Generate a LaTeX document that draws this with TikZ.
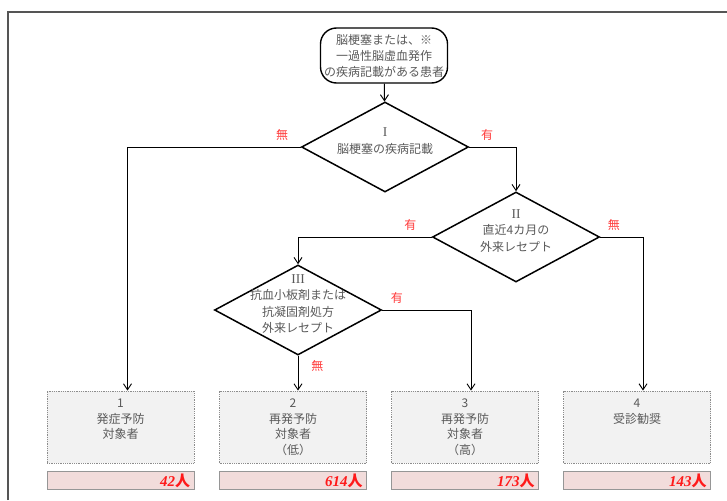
\documentclass[tikz,border=0pt]{standalone}
\usepackage{fontspec}
\setmainfont{Noto Sans CJK JP}[AutoFakeSlant=0.2]
\newfontfamily\numfont{Liberation Serif}
\usetikzlibrary{arrows.meta,shapes.geometric,positioning}

\definecolor{textgray}{HTML}{595959}
\definecolor{labelred}{HTML}{FF3B3B}
\definecolor{countred}{HTML}{FF1A1A}
\definecolor{boxfill}{HTML}{F2F2F2}
\definecolor{boxline}{HTML}{8C8C8C}
\definecolor{countfill}{HTML}{F2DCDB}
\definecolor{countline}{HTML}{969696}
\definecolor{framegray}{HTML}{555555}

\begin{document}
\begin{tikzpicture}[x=1pt,y=-1pt,->,>={Straight Barb[length=6pt,width=8pt]},
                    line width=0.95pt,
                    start node/.style={draw,rounded corners=16pt,line width=1.4pt,
                      minimum width=127pt,minimum height=55pt,inner sep=0pt,
                      align=center,text=textgray,font=\fontsize{12}{16}\selectfont},
                    decision/.style={diamond,draw,line width=1.5pt,
                      minimum width=167pt,minimum height=90pt,inner sep=0pt},
                    decision text/.style={align=center,inner sep=0pt,yshift=6pt,
                      text=textgray,font=\fontsize{12}{16.5}\selectfont},
                    result/.style={draw=boxline,densely dotted,fill=boxfill,line width=0.8pt,
                      minimum width=147pt,minimum height=72pt,inner sep=0pt},
                    result text/.style={align=center,inner sep=0pt,
                      text=textgray,font=\fontsize{12}{15.5}\selectfont},
                    count/.style={draw=countline,fill=countfill,line width=0.9pt,
                      minimum width=147pt,minimum height=18pt,inner sep=0pt,
                      text width=139pt,align=right,text=countred,
                      font=\fontsize{15}{15}\selectfont\bfseries\itshape},
                    yes no/.style={text=labelred,inner sep=1pt,
                      font=\fontsize{12}{12}\selectfont},
                    %every edge/.style={draw}
                    ]
  \useasboundingbox (0,0) rectangle (727,500);
  \draw[-,framegray,line width=1.6pt] (8,500) -- (8,12) -- (727,12);

  \node[start node] (start) at (384,55.5) {脳梗塞または、※\\一過性脳虚血発作\\の疾病記載がある患者};

  \node[decision] (d1) at (385,147) {};
  \node[decision text] (d1 text) at (d1) {{\numfont\fontsize{13.5}{13.5}\selectfont I}\\脳梗塞の疾病記載};
  \node[decision] (d2) at (516,237) {};
  \node[decision text] (d2 text) at (d2) {{\numfont\fontsize{13.5}{13.5}\selectfont II}\\直近4カ月の\\外来レセプト};
  \node[decision] (d3) at (298,310) {};
  \node[decision text] (d3 text) at (d3) {{\numfont\fontsize{13.5}{13.5}\selectfont III}\\抗血小板剤または\\抗凝固剤処方\\外来レセプト};

  \node[result] (r1) at (120.5,427) {};
  \node[result] (r2) at (293,427) {};
  \node[result] (r3) at (465,427) {};
  \node[result] (r4) at (637,427) {};
  \node[result text, below=8pt of r1.north] (r1 text) {1\\発症予防\\対象者};
  \node[result text, below=8pt of r2.north] (r2 text) {2\\再発予防\\対象者\\（低）};
  \node[result text, below=8pt of r3.north] (r3 text) {3\\再発予防\\対象者\\（高）};
  \node[result text, below=8pt of r4.north] (r4 text) {4\\受診勧奨};

  \node[count, below=8pt of r1] (c1) {{\numfont 42}人};
  \node[count, below=8pt of r2] (c2) {{\numfont 614}人};
  \node[count, below=8pt of r3] (c3) {{\numfont 173}人};
  \node[count, below=8pt of r4] (c4) {{\numfont 143}人};

  \draw (start) -- (d1);
  \draw (d1.west) -| node[yes no, pos=0.054, above=5pt] {無} ([xshift=7pt]r1.north);
  \draw (d1.east) -| node[yes no, pos=0.19, above=5pt] {有} (d2.north);
  \draw (d2.west) -| node[yes no, pos=0.08, above=5pt] {有} (d3.north);
  \draw (d2.east) -| node[yes no, pos=0.16, above=5pt] {無} ([xshift=6pt]r4.north);
  \draw (d3.east) -| node[yes no, pos=0.083, above=5pt] {有} ([xshift=6pt]r3.north);
  \draw (d3.south) -- node[yes no, pos=0.3, right=12pt] {無} (d3.south |- r2.north);
\end{tikzpicture}
\end{document}
